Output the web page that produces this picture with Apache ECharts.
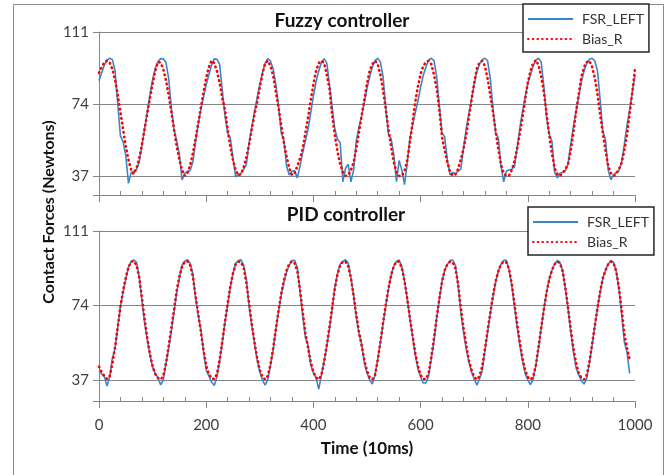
<!DOCTYPE html>
<html><head><meta charset="utf-8">
<script src="https://cdn.jsdelivr.net/npm/echarts@6/dist/echarts.min.js"></script>
<style>html,body{margin:0;padding:0;background:#fff}#c{width:667px;height:475px}</style>
</head><body><div id="c"></div><script>
// sampling grid of the recorded signals (Time, 10ms units)
const sampleStep = 5;
const seriesNames = ['FSR_LEFT', 'Bias_R'];
const panelTitles = ['Fuzzy controller', 'PID controller'];
const yLabelValues = [37, 74, 111];
const xLabelValues = [0, 200, 400, 600, 800, 1000];

const fuzzyFsrLeft = [
86,90,94,96.5,97.5,96.8,91,74,57.5,54.5,
47.5,33.2,38.7,39.5,40.3,44,52.3,61,70,78.5,
86.5,92.5,95.8,97.3,97.2,95.3,87,72,61,55,
48,35,38.3,39.3,39.8,44,54,63,71,77.5,
84,89,94,97.2,97,94.5,81,68,59,56.5,
46,36.5,37.8,38.3,40.5,43,54,62,70,77,
84,90,95,97.3,96,92,84,73,59,55.5,
42,37.5,39.5,39.6,36,42,49,55,61,69.5,
78,85.5,91,95.5,97.3,95,84,72.5,61,56,
54,34,41,43,34,40,55,62,68,74.5,
82,88,93,96.3,97.5,95.5,88,72,58.4,56,
48,34,45,40,32.5,43,56.6,63,69.5,75.5,
82.5,88.8,93,96.5,97.5,96.3,88,73,59,57,
45,37.5,38.8,38,39.5,40.5,51,61,69,76.5,
84,90.5,94.5,96.8,97.5,96.2,87,72,59,56.6,
42,34,39.5,40,40.5,41.5,51,61.5,70,77.5,
84.5,89,93.5,96.5,97.5,95.5,83,67,58.5,55,
39,36,38.4,38.8,39.5,43,53,62.5,70,77.5,
85.5,91,94.8,97,97.5,96.2,91,76,60,55.5,
40,35,37.5,38.8,39.6,44,53,63,71,80,
89];

const fuzzyBiasR = [
90,93,95.3,96.3,95.3,91.8,86.2,78.6,69.8,60.8,
52.2,45.3,40,37.9,41,46,53,61,69,77,
84.5,91,95.5,95.3,91.8,86.2,78.6,69.8,60.8,52.2,
45.3,40,37,38.5,42.5,48.5,56,64,72,80,
87.5,93,96.3,95,91,85,77,71,61,52,
45,40,37.2,38,41.5,46.5,53,61,68.5,75,
82.5,89.5,95,96.2,93.5,88.5,80,72,63,54,
47,41,37.5,38.5,42,46,51,59,67,76,
84,91,95,96.2,95,89,82,68,58,49.5,
43,39,37,37.5,40,44,51,59.5,68,76,
84.5,91,94.5,96.2,94.5,89,81,71.5,61,52,
44,39,37,37,39.5,45,54,64.5,75,83,
89.5,93.5,95.5,96.2,94.5,89,81.8,71,57,50,
44,39,37.2,37.8,40.5,45.5,51,58,67,76,
85,92.3,95.3,96.2,93.5,87,78.5,70,60,50.6,
43,38.3,37,37.2,40,44.5,51,58.5,67,76,
85,91,95,96.5,94,88,80,69,58,48.5,
41,38,37,38.5,40.5,43,50,59,70,79,
88,93,95.5,96.2,93,87.5,79,68.5,59,50,
42,38.5,37,38,40.5,43.6,50,58,69,80,
92];

const pidFsrLeft = [
41.5,40,38.7,34,38.5,48,52.5,63,73.5,80.5,
87,93,95.8,96.7,95.5,88.5,76.5,65.5,57,49.5,
43.3,40.2,38.3,34.6,37,45,52.5,61,70.5,80.3,
87.5,94,96,96.7,95,90,78,69.5,62,51,
42,39,36,34.3,38.5,46,55.5,65.3,74,83,
90,95,96.3,96.7,94,87,73.7,64,55.5,47,
41,37,34.5,37.3,44,52,62,71,79,85.5,
90.5,94,96.3,96.5,93,81,69,58,54.5,44.5,
40.5,38,32.5,39.5,46.5,53.5,62,72,83,90,
94.5,96,96.7,95,88,79,68,60,55,45.5,
40.5,37,35,39.5,47,55.5,64.5,73.5,82,89,
93.5,96,96.6,93.5,86.5,77.5,67.5,58.5,49.5,42.5,
38.5,35.5,35.5,39,47.5,56,67.5,77,86,91.5,
94.5,96.3,96.6,94,84,70.5,61,52.5,46,41,
37.5,34.5,37.5,41.5,51.5,60.5,69.5,78,85.5,91,
94.5,96.5,96.4,92,84,73.7,63.5,54.5,46.5,40.3,
37,34.7,37.5,44,52.5,62.5,72,80.5,87,91.5,
94.5,96.4,95.5,91.5,82.5,72.5,61,51,43,39.7,
36.7,35,37.8,45.5,54,63.5,72.5,80.5,87.5,91.5,
94.5,96.4,95.5,91,82,70,56,51,40.3];

const pidBiasR = [
43.7,41,39,37.5,39,45,53.5,63.5,73.5,81.5,
88,93,95.8,96,94,88,78,67.5,58,50,
44,40,38,37.3,39,45.5,54,63,72,81.5,
88.5,93.5,95.7,96,94,88.5,79,70,61,52,
44,40,37.8,37.5,40,47,56,66,75,83.5,
90,94.5,95.8,95.5,92.5,85,75,65,56,48,
42,38.5,37.3,39,45,53,62.5,71.5,80,86.5,
91.5,94.8,96,95,91,82,71,60.5,53,46,
41,38.3,37.3,39.5,46,54.5,63.5,73,82.5,89.5,
94,95.8,95.8,93.5,87.5,79,69.5,61,54,47,
41.5,38.3,37.3,39.5,47,56,65.5,74.5,82.5,89,
93.5,95.8,95.8,92.5,86,77.5,68,59,50.5,44,
39.5,37.5,37.5,40.5,48.5,58,68,77.5,86,91.5,
94.5,95.8,95.5,92.5,84.5,73,63,54.5,47,42,
38.5,37.3,39,44,52.5,61.5,70.5,79,86,91,
94.5,95.8,95.5,92,85,75,65,56,48,42,
38.5,37.3,38.5,44.5,53.5,63,72,80.5,87,91.5,
94.5,95.8,95,91,83,73,62.5,53,45.5,40.5,
38,37.3,39.5,46,55,64,73,81,87.5,91.5,
94.5,95.8,95,91,83,72,60,53,47];

const toPairs = arr => arr.map((v, i) => [i * sampleStep, v]);

const FONT = 'Lato, "Open Sans", sans-serif';
const AX = '#868686';
const TXT = '#404040';
const BLUE = '#3b86c7';
const RED = '#ff0000';

const yMins = [27.2, 26.6];

function makeX(i) {
  return {
    type: 'value', gridIndex: i, min: 0, max: 1000, interval: 200,
    axisLine: { show: true, lineStyle: { color: AX, width: 1 } },
    axisTick: { show: true, length: 7, lineStyle: { color: AX } },
    minorTick: { show: true, splitNumber: 5, length: -4, lineStyle: { color: AX } },
    splitLine: { show: false },
    axisLabel: i === 1 ? { show: true, customValues: xLabelValues, formatter: v => String(v), fontSize: 15, color: TXT, fontFamily: FONT, margin: 17 } : { show: false },
    name: i === 1 ? 'Time (10ms)' : '',
    nameLocation: 'middle', nameGap: 39,
    nameTextStyle: { fontSize: 17, fontWeight: 'bold', color: '#111', fontFamily: FONT }
  };
}
function makeY(i) {
  return {
    type: 'value', gridIndex: i, min: yMins[i], max: 111,
    axisLine: { show: true, lineStyle: { color: AX, width: 1 } },
    axisTick: { show: true, length: 6, customValues: [yMins[i]].concat(yLabelValues), lineStyle: { color: AX } },
    splitLine: { show: true, lineStyle: { color: AX, width: 1 } },
    axisLabel: { show: true, customValues: yLabelValues, fontSize: 15, color: TXT, fontFamily: FONT, margin: 10 }
  };
}
function makeLegend(top, left) {
  return {
    orient: 'vertical', left: left, top: top,
    data: seriesNames,
    itemWidth: 45, itemHeight: 14, itemGap: 6,
    padding: [8, 5, 6, 4],
    borderColor: '#262626', borderWidth: 1.5, borderRadius: 0,
    backgroundColor: '#fff',
    itemStyle: { opacity: 0, borderWidth: 0 },
    textStyle: { fontSize: 14, color: '#333', fontFamily: FONT, padding: [0, 0, 0, 4] }
  };
}
function line(name, data, gi, color, dotted) {
  return {
    name: name, type: 'line', xAxisIndex: gi, yAxisIndex: gi,
    data: toPairs(data), symbol: 'none', showSymbol: false, smooth: false,
    color: color,
    lineStyle: dotted ? { color: color, width: 2.6, type: [0.6, 4.1], cap: 'round' } : { color: color, width: 1.6 }
  };
}

const chart = echarts.init(document.getElementById('c'), null, { renderer: 'canvas' });
chart.setOption({
  animation: false,
  backgroundColor: '#fff',
  grid: [
    { left: 99, top: 32, width: 536, height: 163 },
    { left: 99, top: 231, width: 536, height: 170 }
  ],
  xAxis: [makeX(0), makeX(1)],
  yAxis: [makeY(0), makeY(1)],
  legend: [makeLegend(4, 523), makeLegend(207, 528)],
  graphic: [
    { type: 'rect', silent: true, z: -1, shape: { x: 13.5, y: 4.5, width: 650, height: 480 }, style: { fill: 'none', stroke: '#8c8c8c', lineWidth: 1 } },
    { type: 'text', x: 342, y: 21, style: { text: panelTitles[0], font: 'bold 19px ' + FONT, fill: '#111', textAlign: 'center', textVerticalAlign: 'middle' } },
    { type: 'text', x: 346, y: 215, style: { text: panelTitles[1], font: 'bold 19px ' + FONT, fill: '#111', textAlign: 'center', textVerticalAlign: 'middle' } },
    { type: 'text', x: 49, y: 212, rotation: Math.PI / 2, style: { text: 'Contact Forces (Newtons)', font: 'bold 16px ' + FONT, fill: '#111', textAlign: 'center', textVerticalAlign: 'middle' } }
  ],
  series: [
    line(seriesNames[0], fuzzyFsrLeft, 0, BLUE, false),
    line(seriesNames[1], fuzzyBiasR, 0, RED, true),
    line(seriesNames[0], pidFsrLeft, 1, BLUE, false),
    line(seriesNames[1], pidBiasR, 1, RED, true)
  ]
});
</script></body></html>
